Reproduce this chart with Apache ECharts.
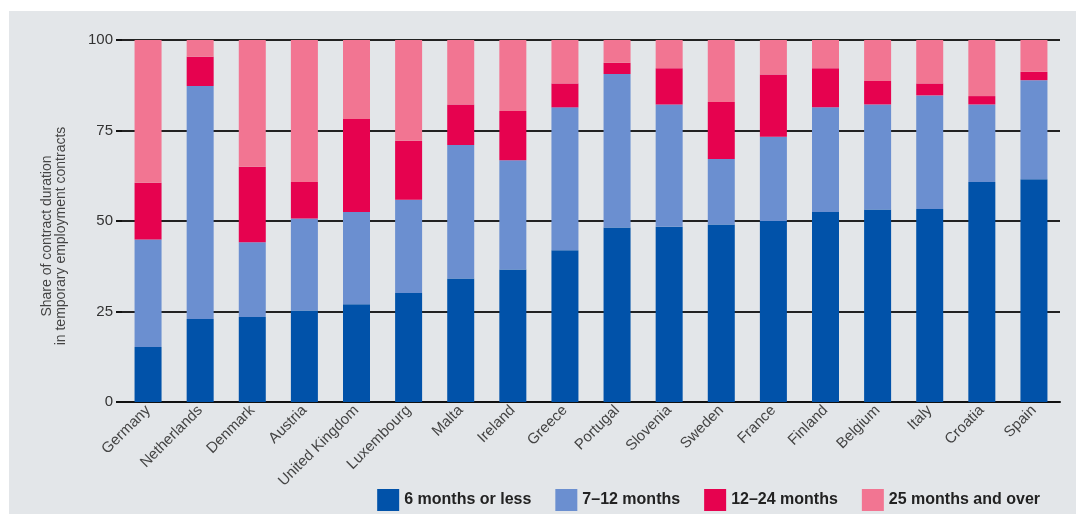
<!DOCTYPE html>
<html>
<head>
<meta charset="utf-8">
<script src="https://cdn.jsdelivr.net/npm/echarts@6/dist/echarts.min.js"></script>
<style>
    html, body { margin: 0; padding: 0; background: #fff; }
    #panel { position: absolute; left: 9px; top: 11px; width: 1067px; height: 503px; background: #e3e6e9; }
    #chart { position: absolute; left: 0; top: 0; width: 1076px; height: 514px; }
</style>
</head>
<body>
<div id="panel"></div>
<div id="chart"></div>
<script>
const countries = ['Germany', 'Netherlands', 'Denmark', 'Austria', 'United Kingdom', 'Luxembourg', 'Malta', 'Ireland', 'Greece',
    'Portugal', 'Slovenia', 'Sweden', 'France', 'Finland', 'Belgium', 'Italy', 'Croatia', 'Spain'];

const upTo6 = [15.2, 22.9, 23.5, 25.3, 27.0, 30.1, 34.1, 36.6, 41.9, 48.2, 48.4, 49.0, 50.0, 52.5, 53.2, 53.3, 60.8, 61.5];
const m7to12 = [29.7, 64.4, 20.6, 25.4, 25.5, 25.8, 36.9, 30.2, 39.5, 42.4, 33.8, 18.1, 23.3, 28.9, 29.0, 31.4, 21.4, 27.4];
const m12to24 = [15.7, 8.1, 20.9, 10.1, 25.7, 16.3, 11.2, 13.6, 6.6, 3.1, 10.0, 15.8, 17.2, 10.8, 6.5, 3.3, 2.3, 2.3];
const over25 = [39.4, 4.6, 35.0, 39.2, 21.8, 27.8, 17.8, 19.6, 12.0, 6.3, 7.8, 17.1, 9.5, 7.8, 11.3, 12.0, 15.5, 8.8];

const yTicks = [0, 25, 50, 75, 100];

document.addEventListener('DOMContentLoaded', () => {
    const chart = echarts.init(document.getElementById('chart'));

    const makeSeries = (name, data, color) => ({
        name: name,
        type: 'bar',
        stack: 'total',
        barWidth: 27,
        data: data,
        itemStyle: { color: color },
        emphasis: { disabled: true }
    });

    chart.setOption({
        backgroundColor: 'transparent',
        animation: false,
        textStyle: { fontFamily: 'Liberation Sans, Arial, sans-serif' },
        grid: { left: 122, right: 16, top: 40, bottom: 112 },
        legend: {
            right: 31,
            top: 484,
            itemWidth: 22,
            itemHeight: 22,
            itemGap: 24,
            icon: 'rect',
            textStyle: {
                fontFamily: 'Liberation Sans Narrow, Liberation Sans, Arial, sans-serif',
                fontWeight: 'bold',
                fontSize: 16,
                color: '#222'
            },
            data: ['6 months or less', '7–12 months', '12–24 months', '25 months and over']
        },
        xAxis: {
            type: 'category',
            data: countries,
            axisLine: { lineStyle: { color: '#111', width: 2 } },
            axisTick: { show: false },
            axisLabel: {
                rotate: 45,
                interval: 0,
                fontSize: 15,
                color: '#444',
                margin: 6
            }
        },
        yAxis: {
            type: 'value',
            min: yTicks[0],
            max: yTicks[yTicks.length - 1],
            interval: 25,
            name: 'Share of contract duration\nin temporary employment contracts',
            nameLocation: 'middle',
            nameGap: 54,
            nameTextStyle: { fontSize: 14, color: '#444', lineHeight: 14, padding: [0, 0, 0, -30] },
            axisLine: { show: false },
            axisTick: { show: true, length: 6, lineStyle: { color: '#111', width: 2 } },
            axisLabel: { fontSize: 15, color: '#333', margin: 9 },
            splitLine: { lineStyle: { color: '#222', width: 2 } }
        },
        series: [
            makeSeries('6 months or less', upTo6, '#0152a9'),
            makeSeries('7–12 months', m7to12, '#6b8fd0'),
            makeSeries('12–24 months', m12to24, '#e6024f'),
            makeSeries('25 months and over', over25, '#f27592')
        ]
    });

    window.addEventListener('resize', () => chart.resize());
});
</script>
</body>
</html>
